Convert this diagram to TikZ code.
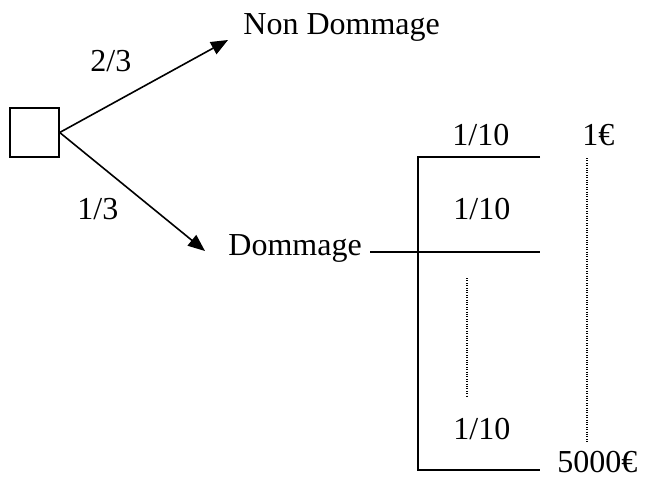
\documentclass[tikz,border=0pt]{standalone}
\usepackage{fontspec}
\setmainfont{Liberation Serif}
\usetikzlibrary{arrows.meta}
\begin{document}
\begin{tikzpicture}[x=0.5pt,y=-0.5pt,
  txt/.style={inner sep=0pt,anchor=base west,font=\fontsize{16}{19}\selectfont},
  ln/.style={line width=0.9pt},
  arr/.style={line width=0.8pt,-{Triangle[length=8.5pt,width=6.8pt]}},
  dots/.style={line width=0.6pt,dash pattern=on 0.5pt off 0.7pt}]
\useasboundingbox (0,0) rectangle (647,476);
\node[draw,line width=0.7pt,minimum size=24.5pt,inner sep=0pt] (box) at (34.5,132.5) {};
\node[txt] (nd) at (243,35) {Non Dommage};
\node[txt] (d) at (228,255) {Dommage};
\node[txt] (p23) at (90,72) {2/3};
\node[txt] (p13) at (77,219) {1/3};
\node[txt] (pa) at (452,145) {1/10};
\node[txt] (pb) at (453,219) {1/10};
\node[txt] (pc) at (453,439) {1/10};
\node[txt] (v1) at (582,145) {1€};
\node[txt] (v2) at (557,472) {5000€};
\coordinate (tipN) at (228,40);
\coordinate (tipD) at (205,251);
\coordinate (jl) at (370,252);
\coordinate (jr) at (540,252);
\coordinate (vt) at (418,157);
\coordinate (vb) at (418,470);
\coordinate (tr) at (540,157);
\coordinate (br) at (540,470);
\draw[arr] (box.east) -- (tipN);
\draw[arr] (box.east) -- (tipD);
\draw[ln] (jl) -- (jr);
\draw[ln] (tr) -- (vt) -- (vb) -- (br);
\draw[dots] (467,278) -- (467,396);
\draw[dots] (587,158) -- (587,443);
\end{tikzpicture}
\end{document}
